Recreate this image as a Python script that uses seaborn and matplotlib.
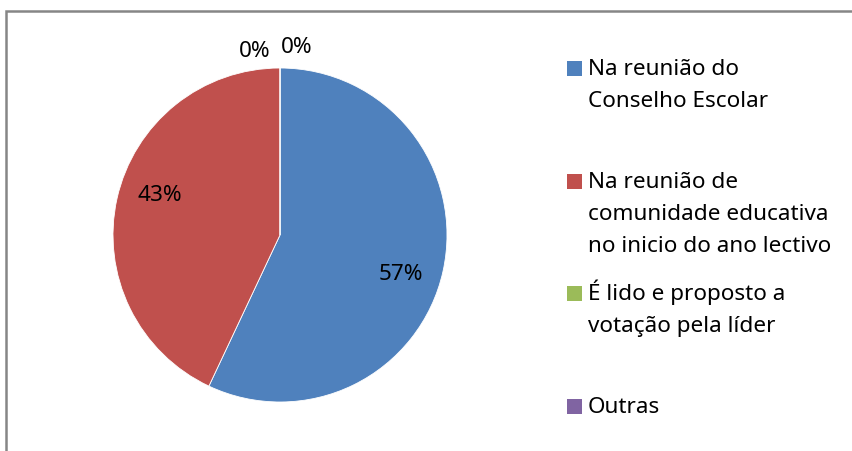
import matplotlib
matplotlib.use("Agg")
import matplotlib.pyplot as plt
from matplotlib.patches import Rectangle
import numpy as np
import seaborn as sns

# Data
categories = [
    "Na reunião do\nConselho Escolar",
    "Na reunião de\ncomunidade educativa\nno inicio do ano lectivo",
    "É lido e proposto a\nvotação pela líder",
    "Outras",
]
shares = [57, 43, 0, 0]
colors_hex = ["#4F81BD", "#C0504D", "#9BBB59", "#8064A2"]

sns.set_theme(style="white")
plt.rcParams["font.family"] = ["Noto Sans", "DejaVu Sans"]
palette = sns.color_palette(colors_hex)

W, H = 853, 451
fig = plt.figure(figsize=(W / 100, H / 100), dpi=100)
fig.patch.set_facecolor("white")

# Pie area (pixel geometry -> figure fractions)
cx, cy, r = 280, 235, 167
ax = fig.add_axes([(cx - r) / W, (H - cy - r) / H, 2 * r / W, 2 * r / H])

fs = 16.2

def fmt(p):
    return f"{p:.0f}%" if p > 0.5 else ""

wedges, texts, autotexts = ax.pie(
    shares,
    colors=palette,
    startangle=90,
    counterclock=False,
    autopct=fmt,
    pctdistance=0.76,
    wedgeprops=dict(edgecolor="white", linewidth=0.6),
    textprops=dict(fontsize=fs, color="black"),
)
# Percentage labels placed slightly clockwise of each wedge's middle
for w, t in zip(wedges, autotexts):
    if t.get_text():
        mid = np.deg2rad((w.theta1 + w.theta2) / 2 - 5.5)
        t.set_position((0.76 * np.cos(mid), 0.76 * np.sin(mid)))
ax.set_xlim(-1, 1)
ax.set_ylim(-1, 1)
ax.set_aspect("equal")
ax.axis("off")

# Zero-share labels sit just outside the top of the pie
zero_offsets = [-25, 17]
k = 0
total = sum(shares)
cum = 0
for v in shares:
    if v == 0:
        ang = np.deg2rad(90 - 360 * cum / total)
        ax.annotate("0%", xy=(np.cos(ang) * 1.11, np.sin(ang) * 1.11),
                    xytext=(zero_offsets[k % 2] * 0.72, (2 if k else -2) * 0.72),
                    textcoords="offset points", ha="center", va="center",
                    fontsize=fs, color="black", annotation_clip=False)
        k += 1
    cum += v

# Legend: square aligned to the first text line, entries evenly spaced
leg_x_sq, leg_x_txt = 567, 588
first_base, step, line_h = 75, 112.7, 32
sq = 15
for i, (lab, col) in enumerate(zip(categories, palette)):
    base = first_base + i * step
    fig.add_artist(Rectangle((leg_x_sq / W, (H - base - 1) / H), sq / W, sq / H,
                             transform=fig.transFigure, facecolor=col,
                             edgecolor="none"))
    for j, line in enumerate(lab.split("\n")):
        fig.text(leg_x_txt / W, (H - base - j * line_h) / H, line, fontsize=fs,
                 color="black", ha="left", va="baseline")

# Chart frame (top and left edges visible)
fig.add_artist(Rectangle((6.5 / W, -0.1), 1.2, (H - 11) / H + 0.1,
                         transform=fig.transFigure, fill=False,
                         edgecolor="#868686", linewidth=1.8))

fig.savefig("out.png", dpi=100, facecolor="white")
